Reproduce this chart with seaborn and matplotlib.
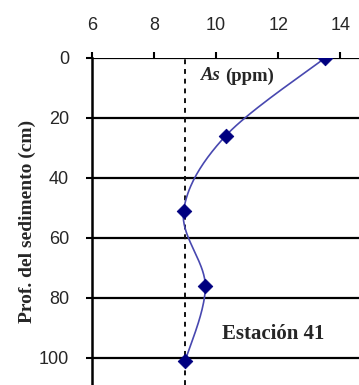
import numpy as np
import pandas as pd
import matplotlib
matplotlib.use("Agg")
import matplotlib.pyplot as plt
import seaborn as sns

# Data
as_ppm = [13.5, 10.3, 8.95, 9.65, 9.0]
depth_cm = [0, 26, 51, 76, 101]
baseline_ppm = 9.0
x_ticks = [6, 8, 10, 12, 14]
y_ticks = [0, 20, 40, 60, 80, 100]

sns.set_theme(style="white")
plt.rcParams['font.family'] = ['Liberation Sans', 'DejaVu Sans']

fig = plt.figure(figsize=(3.59, 3.85), dpi=100)
ax = fig.add_axes([92/359, 0.0, 1 - 92/359, 1 - 58/385])

# Excel-like smoothed line (Bezier through points, computed in scaled space)
sx, sy = 31.0, 3.0
P = np.column_stack([np.array(as_ppm) * sx, np.array(depth_cm) * sy])
n = len(P)
curve = []
for i in range(n - 1):
    p0 = P[i - 1] if i > 0 else P[i]
    p1 = P[i]
    p2 = P[i + 1]
    p3 = P[i + 2] if i + 2 < n else P[i + 1]
    c1 = p1 + (p2 - p0) / 6.0
    c2 = p2 - (p3 - p1) / 6.0
    t = np.linspace(0, 1, 40)[:, None]
    seg = ((1 - t) ** 3) * p1 + 3 * ((1 - t) ** 2) * t * c1 + 3 * (1 - t) * t ** 2 * c2 + t ** 3 * p2
    curve.append(seg if i == 0 else seg[1:])
curve = np.vstack(curve)
df_curve = pd.DataFrame({"x": curve[:, 0] / sx, "y": curve[:, 1] / sy})
df_pts = pd.DataFrame({"x": as_ppm, "y": depth_cm})

# gridlines
for yt in y_ticks:
    ax.axhline(yt, color="black", lw=1.6, zorder=1)
ax.axvline(baseline_ppm, color="#111111", lw=1.4, ls=(0, (2.5, 2.5)), zorder=1)

sns.lineplot(data=df_curve, x="x", y="y", sort=False, estimator=None, color="#4848b0", lw=1.2, ax=ax, zorder=2)
sns.scatterplot(data=df_pts, x="x", y="y", marker="D", s=55, color="#000080", edgecolor="#000080", ax=ax, zorder=3)

ax.set_xlim(6, 14.6)
ax.set_ylim(109, 0)
ax.xaxis.tick_top()
ax.set_xticks(x_ticks)
ax.set_yticks(y_ticks)
ax.tick_params(axis="x", direction="out", length=4.5, width=1.5, color="black", labelsize=13, pad=13, top=True, bottom=False)
ax.tick_params(axis="y", direction="out", length=4.5, width=1.5, color="black", labelsize=13, pad=12, left=True)
for s in ["right", "bottom", "top"]:
    ax.spines[s].set_visible(False)
ax.spines["left"].set_color("black")
ax.spines["left"].set_linewidth(1.8)
ax.set_xlabel("")
ax.set_ylabel("Prof. del sedimento (cm)", family="Liberation Serif", fontweight="bold", fontsize=14, labelpad=2)

ax.text(9.5, 6, "As", family="Liberation Serif", fontweight="bold", style="italic", fontsize=13.5, va="center", ha="left")
ax.text(10.3, 6, "(ppm)", family="Liberation Serif", fontweight="bold", fontsize=13.5, va="center", ha="left")
ax.text(10.2, 92, "Estación 41", family="Liberation Serif", fontweight="bold", fontsize=15, va="center", ha="left")

fig.savefig("out.png", dpi=100)
